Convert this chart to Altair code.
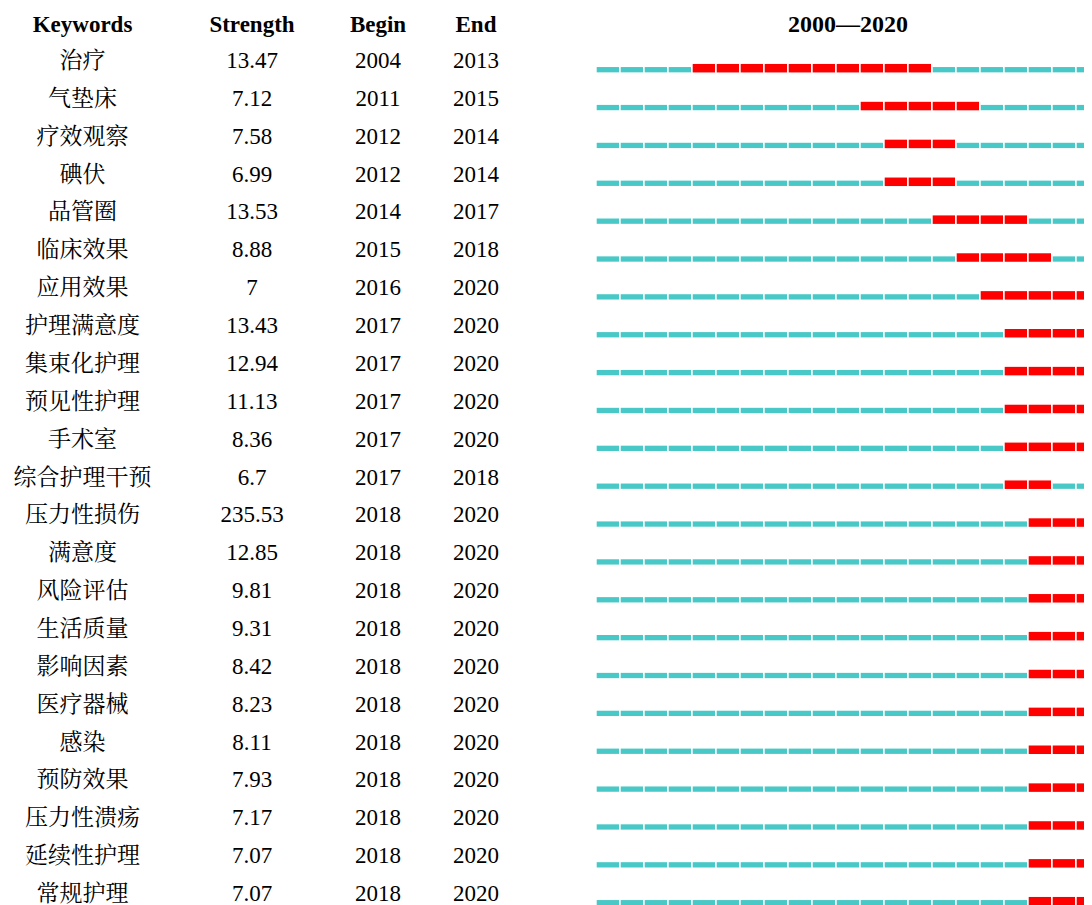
import altair as alt
import pandas as pd

keywords = ["治疗", "气垫床", "疗效观察", "碘伏", "品管圈", "临床效果", "应用效果",
            "护理满意度", "集束化护理", "预见性护理", "手术室", "综合护理干预",
            "压力性损伤", "满意度", "风险评估", "生活质量", "影响因素", "医疗器械",
            "感染", "预防效果", "压力性溃疡", "延续性护理", "常规护理"]
strength = [13.47, 7.12, 7.58, 6.99, 13.53, 8.88, 7, 13.43, 12.94, 11.13, 8.36, 6.7,
            235.53, 12.85, 9.81, 9.31, 8.42, 8.23, 8.11, 7.93, 7.17, 7.07, 7.07]
begin = [2004, 2011, 2012, 2012, 2014, 2015, 2016, 2017, 2017, 2017, 2017, 2017,
         2018, 2018, 2018, 2018, 2018, 2018, 2018, 2018, 2018, 2018, 2018]
end = [2013, 2015, 2014, 2014, 2017, 2018, 2020, 2020, 2020, 2020, 2020, 2018,
       2020, 2020, 2020, 2020, 2020, 2020, 2020, 2020, 2020, 2020, 2020]
years = list(range(2000, 2021))
headers = ["Keywords", "Strength", "Begin", "End"]
title_text = "2000—2020"

FONT = "Liberation Serif, Times New Roman, Noto Serif CJK SC, Noto Sans CJK SC"
TEAL = "#48C8C6"
RED = "#FF0000"

table = pd.DataFrame({
    "kw": keywords,
    "strength": [str(s) for s in strength],
    "begin": [str(b) for b in begin],
    "end": [str(e) for e in end],
})

seg_rows = []
for k, b, e in zip(keywords, begin, end):
    for y in years:
        seg_rows.append({"kw": k, "start": y, "stop": y + 0.93,
                         "status": "burst" if b <= y <= e else "none"})
segs = pd.DataFrame(seg_rows)

W, H = 1076, 900
x_scale = alt.Scale(domain=[1975.471, 2020.304], nice=False, zero=False)
y_scale = alt.Scale(type="point", domain=keywords, range=[53, 886], padding=0)
Y = alt.Y("kw:N", scale=y_scale, axis=None)

layers = []

col_fields = ["kw", "strength", "begin", "end"]
col_x = [74.5, 244, 370, 468]
for hdr, fld, xp in zip(headers, col_fields, col_x):
    layers.append(
        alt.Chart(pd.DataFrame({"h": [hdr]})).mark_text(
            font=FONT, fontSize=23, fontWeight="bold", align="center",
            baseline="middle", color="black"
        ).encode(text="h:N", x=alt.value(xp), y=alt.value(16.5))
    )
    layers.append(
        alt.Chart(table).mark_text(
            font=FONT, fontSize=23, align="center", baseline="middle",
            color="black"
        ).encode(text=alt.Text(f"{fld}:N"), x=alt.value(xp), y=Y)
    )

layers.append(
    alt.Chart(pd.DataFrame({"h": [title_text]})).mark_text(
        font=FONT, fontSize=24, fontWeight="bold", align="center",
        baseline="middle", color="black"
    ).encode(text="h:N", x=alt.value(840), y=alt.value(16.5))
)

base = alt.Chart(segs)
teal = base.transform_filter(alt.datum.status == "none").mark_rule(
    color=TEAL, strokeWidth=5.3, yOffset=8.7, clip=True
).encode(x=alt.X("start:Q", scale=x_scale, axis=None), x2="stop:Q", y=Y)
red = base.transform_filter(alt.datum.status == "burst").mark_rule(
    color=RED, strokeWidth=8.5, yOffset=7.2, clip=True
).encode(x=alt.X("start:Q", scale=x_scale, axis=None), x2="stop:Q", y=Y)
layers += [teal, red]

chart = alt.layer(*layers).properties(
    width=W, height=H,
    autosize=alt.AutoSizeParams(type="none"),
    padding=0,
    background="white",
).configure_view(stroke=None)

chart.save("out.html", embed_options={"renderer": "svg", "actions": False})
